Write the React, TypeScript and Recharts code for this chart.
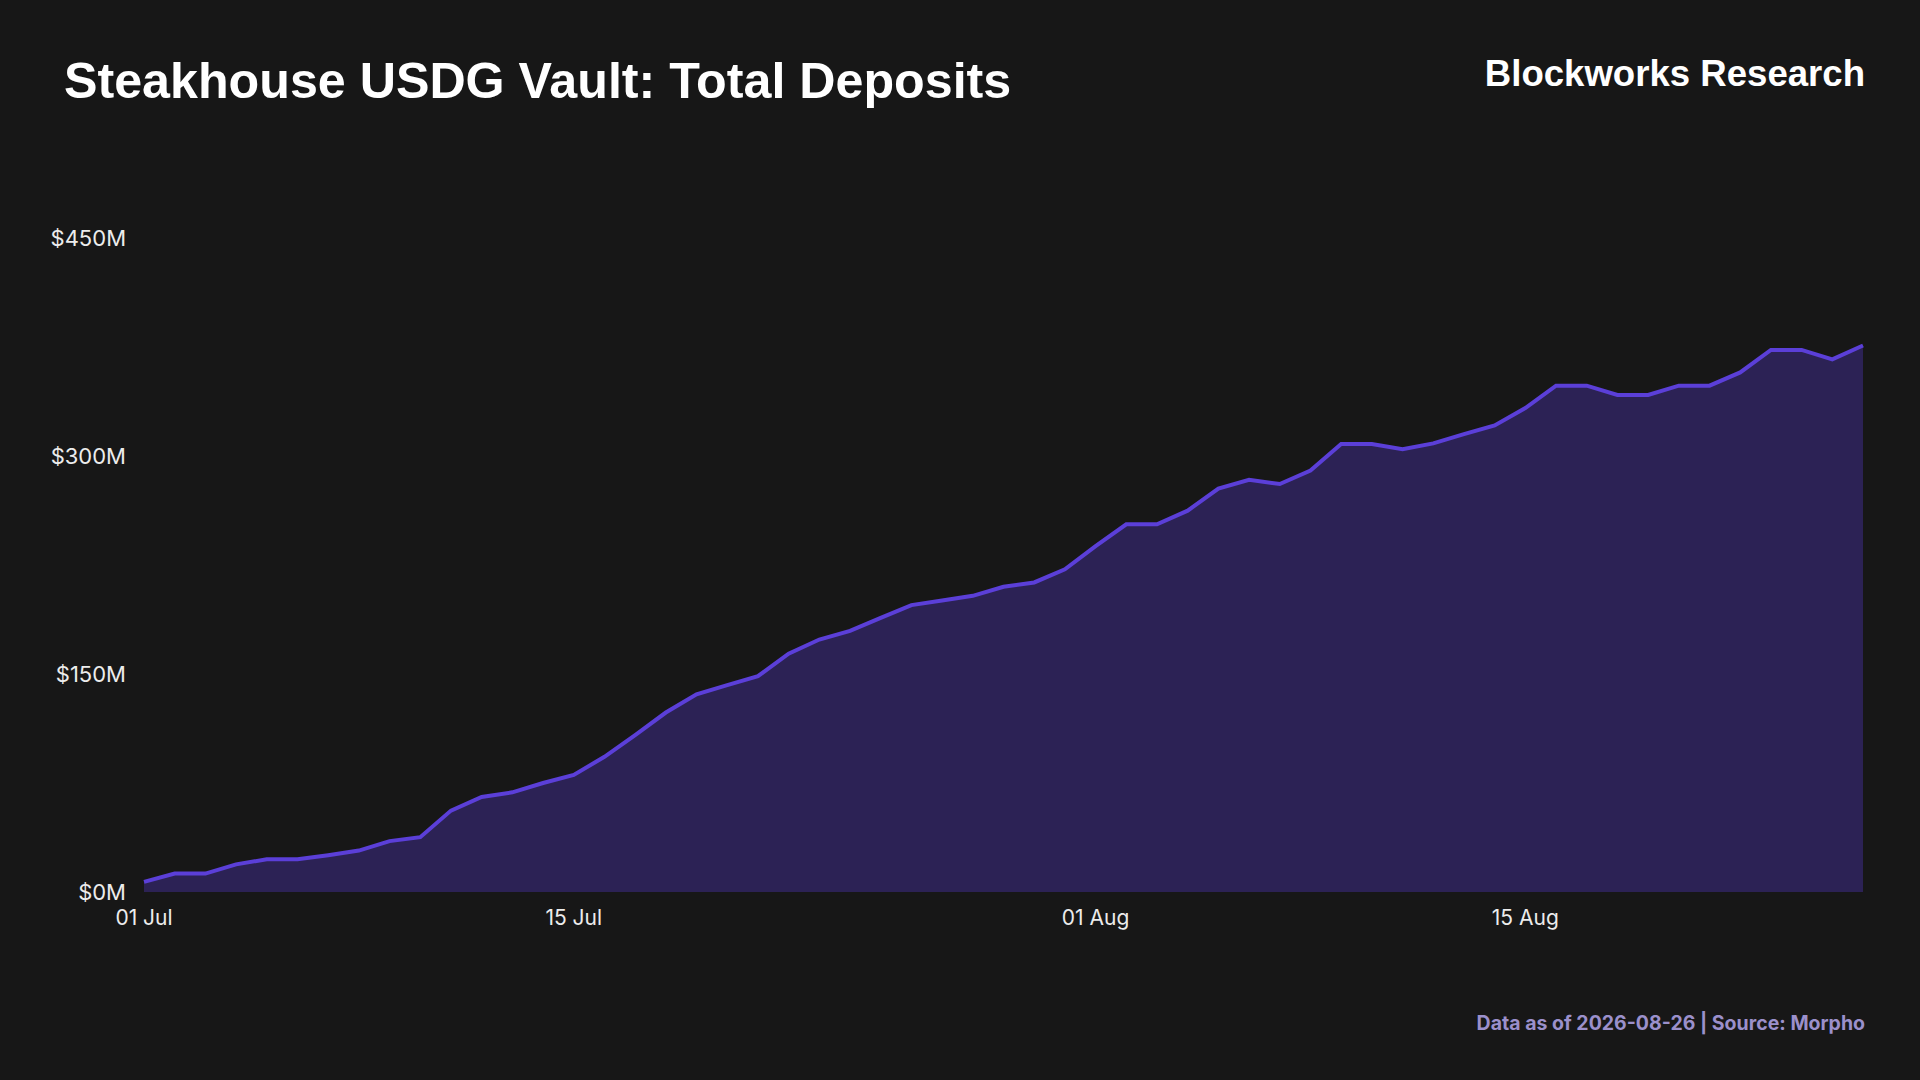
import { AreaChart, Area, XAxis, YAxis } from "recharts";

// daily dates, 01 Jul -> 26 Aug
const dates = [
  "01 Jul", "02 Jul", "03 Jul", "04 Jul", "05 Jul", "06 Jul", "07 Jul", "08 Jul",
  "09 Jul", "10 Jul", "11 Jul", "12 Jul", "13 Jul", "14 Jul", "15 Jul", "16 Jul",
  "17 Jul", "18 Jul", "19 Jul", "20 Jul", "21 Jul", "22 Jul", "23 Jul", "24 Jul",
  "25 Jul", "26 Jul", "27 Jul", "28 Jul", "29 Jul", "30 Jul", "31 Jul",
  "01 Aug", "02 Aug", "03 Aug", "04 Aug", "05 Aug", "06 Aug", "07 Aug", "08 Aug",
  "09 Aug", "10 Aug", "11 Aug", "12 Aug", "13 Aug", "14 Aug", "15 Aug", "16 Aug",
  "17 Aug", "18 Aug", "19 Aug", "20 Aug", "21 Aug", "22 Aug", "23 Aug", "24 Aug",
  "25 Aug", "26 Aug",
];

// total deposits, $M
const deposits = [
  7, 12.7, 12.7, 19, 22.5, 22.5, 25.3, 28.5, 35, 37.7, 56, 65.4, 68.6, 75, 80.6,
  93, 108, 123.5, 136, 142.3, 148.5, 164, 173.7, 179.7, 188.6, 197.4, 200.6,
  203.8, 210, 213, 222,
  238, 253, 253, 262.4, 277.6, 283.6, 280.7, 290, 308.2, 308.2, 304.7, 308.7,
  315, 321, 333, 348.4, 348.4, 342, 342, 348.4, 348.4, 357.5, 373, 373, 366.5,
  376,
];

const xTickLabels = ["01 Jul", "15 Jul", "01 Aug", "15 Aug"];
const yTicks = [0, 150, 300, 450];

const data = dates.map((d, i) => ({ i, date: d, value: deposits[i] }));
const xTicks = xTickLabels.map((l) => dates.indexOf(l));

const xTickStyle = { fill: "#ececec", fontSize: 21, fontFamily: "Inter, sans-serif" };
const yTickStyle = { fill: "#ececec", fontSize: 22, fontFamily: "Inter, sans-serif" };

export default function App() {
  return (
    <div
      style={{
        position: "fixed",
        left: 0,
        top: 0,
        width: 1920,
        height: 1080,
        background: "#171717",
        overflow: "hidden",
      }}
    >
      <div
        style={{
          position: "absolute",
          left: 64,
          top: 56,
          fontFamily: "'Liberation Sans', Arial, sans-serif",
          fontWeight: 700,
          fontSize: 50.2,
          lineHeight: 1,
          color: "#ffffff",
          whiteSpace: "nowrap",
        }}
      >
        Steakhouse USDG Vault: Total Deposits
      </div>
      <div
        style={{
          position: "absolute",
          right: 55,
          top: 56,
          fontFamily: "'Liberation Sans', Arial, sans-serif",
          fontWeight: 700,
          fontSize: 36.6,
          lineHeight: 1,
          color: "#ffffff",
          whiteSpace: "nowrap",
        }}
      >
        Blockworks Research
      </div>

      <div style={{ position: "absolute", left: 0, top: 0 }}>
        <AreaChart
          width={1920}
          height={1080}
          data={data}
          margin={{ top: 238, right: 57, bottom: 158, left: 0 }}
        >
          <XAxis
            dataKey="i"
            type="number"
            domain={[0, dates.length - 1]}
            ticks={xTicks}
            tickFormatter={(v) => dates[v]}
            axisLine={false}
            tickLine={false}
            tickSize={0}
            tickMargin={18}
            height={30}
            tick={xTickStyle}
          />
          <YAxis
            domain={[0, 450]}
            ticks={yTicks}
            tickFormatter={(v) => `$${v}M`}
            axisLine={false}
            tickLine={false}
            tickSize={0}
            tickMargin={18}
            width={144}
            tick={yTickStyle}
          />
          <Area
            type="linear"
            dataKey="value"
            stroke="#5b3fd8"
            strokeWidth={4}
            fill="#2c2255"
            fillOpacity={1}
            isAnimationActive={false}
          />
        </AreaChart>
      </div>

      <div
        style={{
          position: "absolute",
          right: 55,
          top: 1014,
          fontFamily: "Inter, sans-serif",
          fontWeight: 700,
          fontSize: 19.5,
          lineHeight: 1,
          color: "#9b90cb",
          whiteSpace: "nowrap",
        }}
      >
        Data as of 2026-08-26 | Source: Morpho
      </div>
    </div>
  );
}
